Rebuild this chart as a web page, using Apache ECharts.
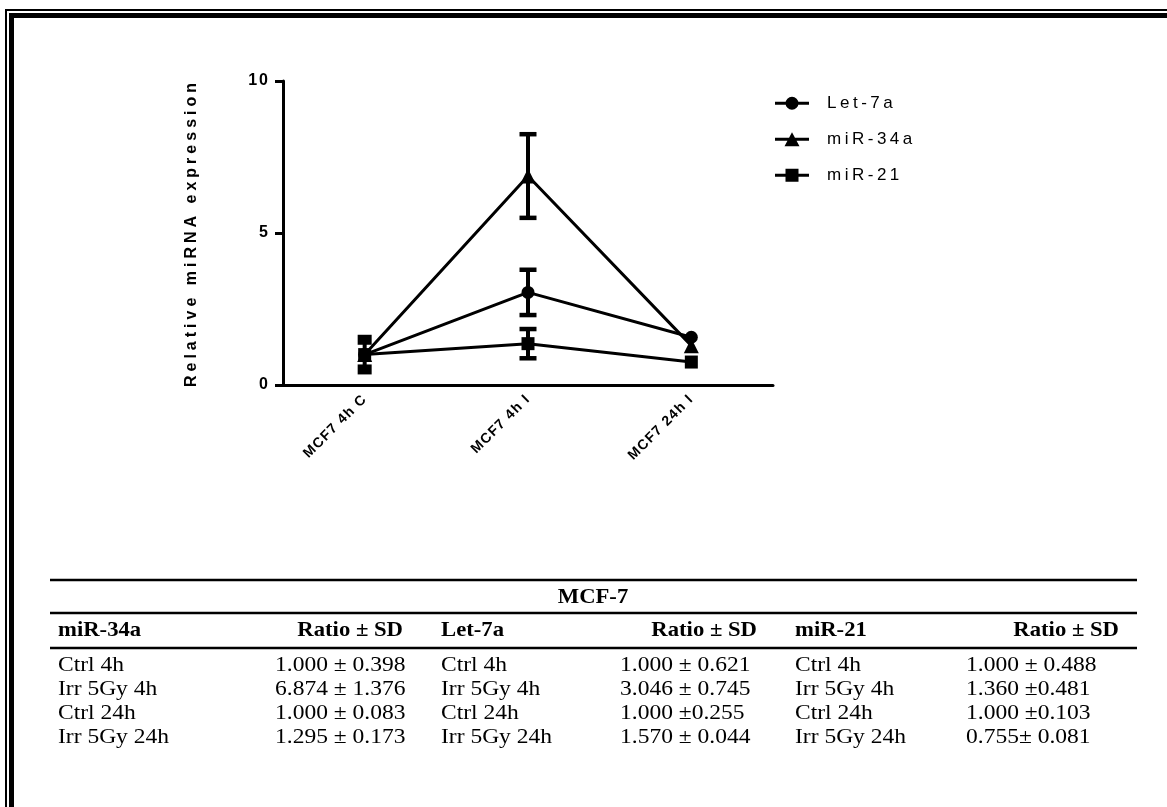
<!DOCTYPE html>
<html><head><meta charset="utf-8">
<script src="https://cdn.jsdelivr.net/npm/echarts@6/dist/echarts.min.js"></script>
<style>html,body{margin:0;padding:0;background:#fff}#c{width:1167px;height:807px}</style>
</head><body><div id="c"></div>
<script>
// ---- data ----
const categories = ['MCF7 4h C', 'MCF7 4h I', 'MCF7 24h I'];
const seriesNames = ['Let-7a', 'miR-34a', 'miR-21'];
const let7a = [1.000, 3.046, 1.570];
const mir34a = [1.000, 6.874, 1.295];
const mir21 = [1.000, 1.360, 0.755];
// error bars as visible in the plot
const let7aErr = [0, 0.745, 0];
const mir34aErr = [0, 1.376, 0];
const mir21Err = [0.488, 0.481, 0];
const yTicks = [0, 5, 10];
const yName = 'Relative miRNA expression';
// table
const tableTitle = 'MCF-7';
const tableHeader = ['miR-34a', 'Ratio ± SD', 'Let-7a', 'Ratio ± SD', 'miR-21', 'Ratio ± SD'];
const rowLabels = ['Ctrl 4h', 'Irr 5Gy 4h', 'Ctrl 24h', 'Irr 5Gy 24h'];
const mir34aRatio = ['1.000 ± 0.398', '6.874 ± 1.376', '1.000 ± 0.083', '1.295 ± 0.173'];
const let7aRatio = ['1.000 ± 0.621', '3.046 ± 0.745', '1.000 ±0.255', '1.570 ± 0.044'];
const mir21Ratio = ['1.000 ± 0.488', '1.360 ±0.481', '1.000 ±0.103', '0.755± 0.081'];

// ---- letter spacing support (font family tag LSPn => n/10 px) ----
(function () {
  const P = CanvasRenderingContext2D.prototype;
  if (!('letterSpacing' in P)) return;
  const f = P.fillText, m = P.measureText;
  function sp(ctx) { const r = /LSP(\d+)/.exec(ctx.font); return r ? (+r[1] / 10) + 'px' : '0px'; }
  P.fillText = function () { this.letterSpacing = sp(this); return f.apply(this, arguments); };
  P.measureText = function () { this.letterSpacing = sp(this); return m.apply(this, arguments); };
})();

const SANS = '"Liberation Sans", Arial, sans-serif';
const SERIF = '"Liberation Serif", "Times New Roman", serif';

const chart = echarts.init(document.getElementById('c'), null, { renderer: 'canvas' });

function errRender(params, api) {
  const i = api.value(0), v = api.value(1), e = api.value(2);
  if (!e) return null;
  const top = api.coord([i, v + e]), bot = api.coord([i, v - e]);
  const capW = i === 0 ? 14 : 17, capT = i === 0 ? 10 : 4.5;
  return {
    type: 'group', children: [
      { type: 'line', shape: { x1: top[0], y1: top[1], x2: bot[0], y2: bot[1] }, style: { stroke: '#000', lineWidth: 4 } },
      { type: 'rect', shape: { x: top[0] - capW / 2, y: top[1] - capT / 2, width: capW, height: capT }, style: { fill: '#000' } },
      { type: 'rect', shape: { x: bot[0] - capW / 2, y: bot[1] - capT / 2, width: capW, height: capT }, style: { fill: '#000' } }
    ]
  };
}
function errData(vals, errs) { return vals.map((v, i) => [i, v, errs[i]]); }

const icoLine = 'M0,5.5 L34,5.5 L34,8.5 L0,8.5 Z ';
const icons = [
  'path://' + icoLine + 'M23.5,7 A6.5,6.5 0 1 1 10.5,7 A6.5,6.5 0 1 1 23.5,7 Z',
  'path://' + icoLine + 'M17,0 L24.5,14 L9.5,14 Z',
  'path://' + icoLine + 'M10.5,0.5 L23.5,0.5 L23.5,13.5 L10.5,13.5 Z'
];

// ---- border + table graphics ----
const g = [];
g.push({ type: 'rect', shape: { x: 5, y: 9, width: 1162, height: 2 }, style: { fill: '#000' } });
g.push({ type: 'rect', shape: { x: 5, y: 9, width: 2, height: 798 }, style: { fill: '#000' } });
g.push({ type: 'rect', shape: { x: 9, y: 13, width: 1158, height: 5 }, style: { fill: '#000' } });
g.push({ type: 'rect', shape: { x: 9, y: 13, width: 5, height: 794 }, style: { fill: '#000' } });
[580, 613, 648].forEach(y => g.push({ type: 'rect', shape: { x: 50, y: y - 1.2, width: 1087, height: 2.4 }, style: { fill: '#000' } }));
function txt(t, x, y, bold, align) {
  g.push({
    type: 'text', x: x, y: y, scaleX: bold ? 1.08 : 1.12,
    style: { text: t, x: 0, y: 0, fill: '#000', font: (bold ? 'bold ' : '') + '21px ' + SERIF, align: align || 'left', verticalAlign: 'middle', textAlign: align || 'left', textVerticalAlign: 'middle' }
  });
}
txt(tableTitle, 593, 598, true, 'center');
const labX = [58, 441, 795], valX = [275, 620, 966], headR = [403, 757, 1119];
for (let c = 0; c < 3; c++) {
  txt(tableHeader[c * 2], labX[c], 631, true, 'left');
  txt(tableHeader[c * 2 + 1], headR[c], 631, true, 'right');
}
const ratios = [mir34aRatio, let7aRatio, mir21Ratio];
const rowY = [665, 689, 713, 737];
rowLabels.forEach((lab, r) => {
  for (let c = 0; c < 3; c++) {
    txt(lab, labX[c], rowY[r], false, 'left');
    txt(ratios[c][r], valX[c], rowY[r], false, 'left');
  }
});

const vals = [let7a, mir34a, mir21];
const errs = [let7aErr, mir34aErr, mir21Err];
const syms = ['circle', 'triangle', 'rect'];
const symSize = [13, 15, 13];

const series = [];
for (let k = 0; k < 3; k++) {
  series.push({
    name: seriesNames[k] + ' err', type: 'custom', renderItem: errRender,
    data: errData(vals[k], errs[k]), encode: { x: 0, y: 1 }, z: 2, silent: true
  });
}
for (let k = 0; k < 3; k++) {
  series.push({
    name: seriesNames[k], type: 'line', data: vals[k], symbol: syms[k], symbolSize: symSize[k],
    showSymbol: true, lineStyle: { color: '#000', width: 3 }, itemStyle: { color: '#000', opacity: 1 },
    z: k === 2 ? 5 : 3, emphasis: { disabled: true }
  });
}

chart.setOption({
  animation: false,
  backgroundColor: '#fff',
  grid: { left: 283, top: 81, width: 490, height: 304 },
  legend: {
    orient: 'vertical', left: 775, top: 93, padding: 0, itemWidth: 34, itemHeight: 14, itemGap: 15.5,
    data: seriesNames.map((n, k) => ({ name: n, icon: icons[k] })),
    textStyle: { fontFamily: 'LSP35, ' + SANS, fontSize: 17, lineHeight: 18, color: '#000', padding: [0, 0, 0, 13] },
    selectedMode: false
  },
  xAxis: {
    type: 'category', data: categories, boundaryGap: true,
    axisLine: { lineStyle: { color: '#000', width: 3 } },
    axisTick: { alignWithLabel: true, length: 8, lineStyle: { color: '#000', width: 3 } },
    axisLabel: { rotate: 45, interval: 0, margin: 12, color: '#000', fontWeight: 'bold', fontSize: 14, fontFamily: 'LSP12, ' + SANS },
    splitLine: { show: false }
  },
  yAxis: {
    type: 'value', min: yTicks[0], max: yTicks[yTicks.length - 1], interval: yTicks[1] - yTicks[0],
    name: yName, nameLocation: 'middle', nameGap: 81, nameRotate: 90,
    nameTextStyle: { fontFamily: 'LSP40, ' + SANS, fontWeight: 'bold', fontSize: 16, color: '#000' },
    axisLine: { show: true, lineStyle: { color: '#000', width: 3 } },
    axisTick: { show: true, length: 8, lineStyle: { color: '#000', width: 3 } },
    axisLabel: { margin: 13, color: '#000', fontWeight: 'bold', fontSize: 16, fontFamily: 'LSP20, ' + SANS },
    splitLine: { show: false }
  },
  graphic: g,
  series: series
});
</script></body></html>
